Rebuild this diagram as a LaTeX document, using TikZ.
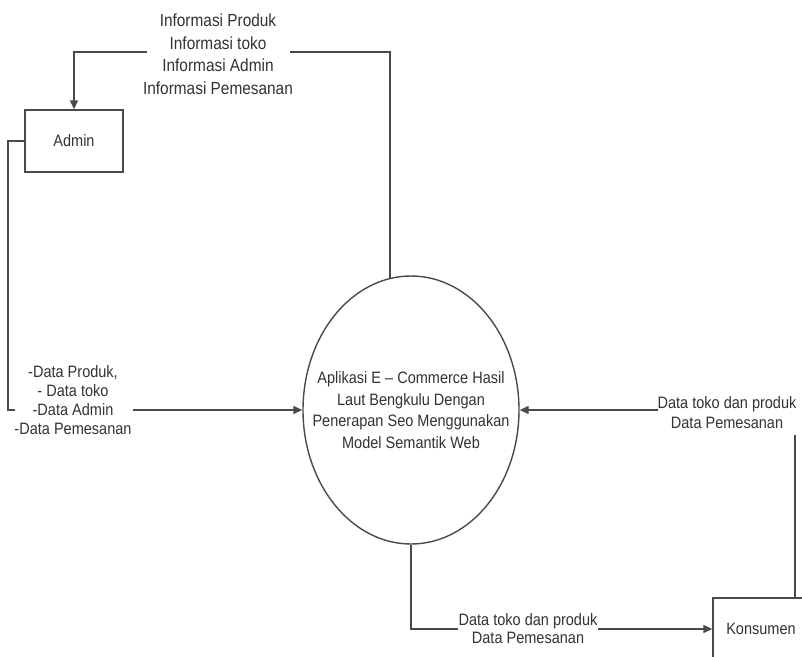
\documentclass[tikz,border=0pt]{standalone}
\usepackage{fontspec}
\setmainfont{Liberation Sans}[FakeStretch=0.88]
\usetikzlibrary{arrows.meta,shapes.geometric}
\definecolor{linegray}{HTML}{4A4A4A}
\definecolor{textgray}{HTML}{333333}
\begin{document}
\begin{tikzpicture}[x=1pt,y=-1pt,
  line/.style={draw=linegray, line width=1.4pt},
  arr/.style={line, -{Triangle[length=9pt,width=8pt]}},
  lbl/.style={text=textgray, align=center, inner sep=0pt},
  box/.style={draw=linegray, line width=1.4pt, text=textgray, font=\fontsize{16.5}{19}\selectfont}
]
\useasboundingbox (0,0) rectangle (802,656);
\fill[white] (0,0) rectangle (802,656);

% nodes
\node[box, minimum width=98pt, minimum height=62pt, inner sep=0pt] (admin) at (74,141) {Admin};
\node[ellipse, draw=linegray, line width=1.4pt, minimum width=216pt, minimum height=268pt,
      inner sep=0pt] (proc) at (411,410) {};
\node[lbl, font=\fontsize{16.5}{21.5}\selectfont] (proctext) at (proc.center)
  {Aplikasi E -- Commerce Hasil\\Laut Bengkulu Dengan\\Penerapan Seo Menggunakan\\Model Semantik Web};
\begin{scope}
\clip (0,0) rectangle (802,656);
\node[box, minimum width=96pt, minimum height=62pt, inner sep=0pt] (kons) at (761,629) {Konsumen};
\end{scope}

% labels
\node[lbl, font=\fontsize{17.5}{22.5}\selectfont] (toplbl) at (218,54)
  {Informasi Produk\\Informasi toko\\Informasi Admin\\Informasi Pemesanan};
\node[lbl, font=\fontsize{16.5}{19}\selectfont] (leftlbl) at (73,400)
  {-Data Produk,\\- Data toko\\-Data Admin\\-Data Pemesanan};
\node[lbl, font=\fontsize{16.5}{20}\selectfont] (rightlbl) at (727,413)
  {Data toko dan produk\\Data Pemesanan};
\node[lbl, font=\fontsize{16.5}{18}\selectfont] (botlbl) at (528,629)
  {Data toko dan produk\\Data Pemesanan};

% connector coordinates
\coordinate (tr) at (290,52);
\coordinate (tl) at (147,52);
\coordinate (lcorner) at (8,410);
\coordinate (lc) at (15,410);
\coordinate (la) at (133,410);
\coordinate (ra) at (658,410);
\coordinate (rv) at (795,435);
\coordinate (bh) at (458,629);
\coordinate (ba) at (598,629);

% connectors
\draw[line] (proc.99) |- (tr);
\draw[arr] (tl) -| (admin.north);

\draw[line] (admin.west) -| (lcorner) -- (lc);
\draw[arr] (la) -- (proc.west);

\draw[line] (kons.north -| rv) -- (rv);
\draw[arr] (ra) -- (proc.east);

\draw[line] (proc.south) |- (bh);
\draw[arr] (ba) -- (kons.west);
\end{tikzpicture}
\end{document}
